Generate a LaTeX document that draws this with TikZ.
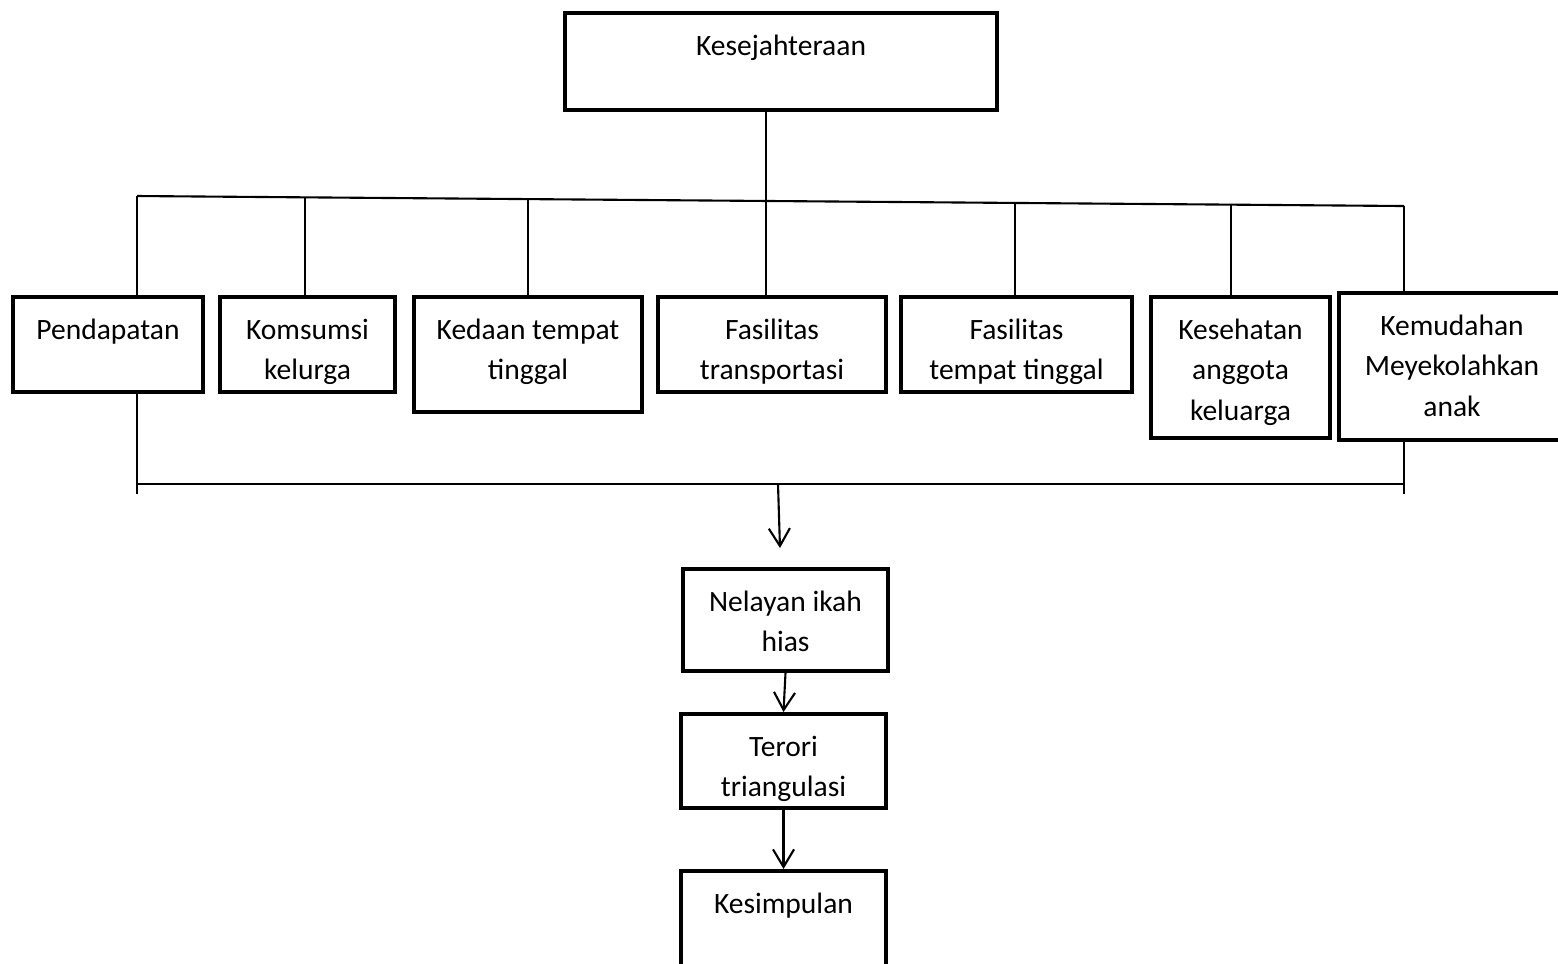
\documentclass[tikz,border=0pt]{standalone}
\usepackage{fontspec}
\setmainfont{Carlito}
\usetikzlibrary{positioning,arrows.meta}

\begin{document}
\begin{tikzpicture}
	\tikzstyle{every node}+=[inner sep=0pt, font=\fontsize{8.4}{11.6}\selectfont]
	\tikzstyle{box}=[draw=black, line width=1.15pt, rectangle, align=center, text height=0.42cm]
	\tikzstyle{box2}=[box, text height=0.828cm]
	\tikzstyle{box3}=[box, text height=1.236cm]
	\tikzstyle{link}=[black, line width=0.6pt]
	\tikzstyle{arr}=[link, -{Straight Barb[length=5pt,width=6pt]}]
	\useasboundingbox (0,0) rectangle (15.58,-9.63);
	% kotak paling atas
	\node [box, minimum width=4.32cm, text depth=0.55cm] (kes) at (7.81,-0.615) {Kesejahteraan};
	% baris indikator
	\node [box, minimum width=1.90cm, text depth=0.53cm] (pend) at (1.08,-3.445) {Pendapatan};
	\node [box2, minimum width=1.75cm, text depth=0.122cm] (kons) at (3.075,-3.445) {Komsumsi\\kelurga};
	\node [box2, minimum width=2.28cm, text depth=0.322cm] (ked) at (5.28,-3.545) {Kedaan tempat\\tinggal};
	\node [box2, minimum width=2.28cm, text depth=0.122cm] (fastr) at (7.72,-3.445) {Fasilitas\\transportasi};
	\node [box2, minimum width=2.31cm, text depth=0.122cm] (fastt) at (10.165,-3.445) {Fasilitas\\tempat tinggal};
	\node [box3, minimum width=1.79cm, text depth=0.174cm] (sehat) at (12.405,-3.675) {Kesehatan\\anggota\\keluarga};
	\node [box3, minimum width=2.26cm, text depth=0.234cm] (mudah) at (14.52,-3.665) {Kemudahan\\Meyekolahkan\\anak};
	% alur bawah
	\node [box2, minimum width=2.05cm, text depth=0.192cm] (nel) at (7.855,-6.20) {Nelayan ikah\\hias};
	\node [box2, minimum width=2.05cm, text depth=0.112cm] (ter) at (7.835,-7.61) {Terori\\triangulasi};
	\node [box, minimum width=2.05cm, text depth=0.69cm] (sim) at (7.835,-9.265) {Kesimpulan};
	% garis atas
	\coordinate (tl) at (1.37,-1.96);
	\coordinate (t2) at (3.05,-1.973);
	\coordinate (t3) at (5.28,-1.991);
	\coordinate (t4) at (7.66,-2.010);
	\coordinate (t5) at (10.15,-2.029);
	\coordinate (t6) at (12.31,-2.046);
	\coordinate (tr) at (14.04,-2.06);
	\draw [link] (tl) -- (tr);
	\draw [link] (t4 |- kes.south) -- (t4 |- fastr.north);
	\draw [link] (tl) -- (tl |- pend.north);
	\draw [link] (t2) -- (t2 |- kons.north);
	\draw [link] (t3) -- (t3 |- ked.north);
	\draw [link] (t5) -- (t5 |- fastt.north);
	\draw [link] (t6) -- (t6 |- sehat.north);
	\draw [link] (tr) -- (tr |- mudah.north);
	% garis bawah
	\coordinate (bl) at (1.37,-4.84);
	\coordinate (br) at (14.04,-4.84);
	\coordinate (m1) at (7.78,-4.84);
	\coordinate (m2) at (7.80,-5.48);
	\draw [link] (bl) -- (br);
	\draw [link] (bl |- pend.south) -- ([yshift=-0.1cm]bl);
	\draw [link] (br |- mudah.south) -- ([yshift=-0.1cm]br);
	\draw [arr] (m1) -- (m2);
	\draw [arr] (nel.south) -- (ter.north);
	\draw [arr] (ter.south) -- (sim.north);
\end{tikzpicture}
\end{document}
